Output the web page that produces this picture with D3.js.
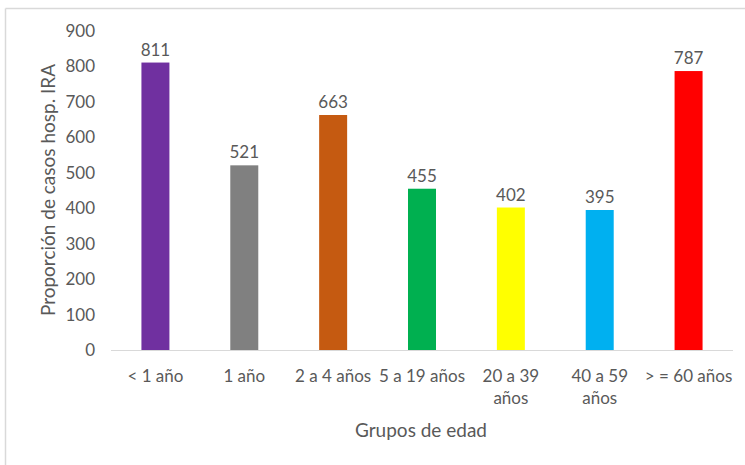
<!DOCTYPE html>
<html>
<head>
<meta charset="utf-8">
<script src="https://cdn.jsdelivr.net/npm/d3@7"></script>
<style>
  body { margin: 0; background: #fff; }
  text { font-family: Lato, "Open Sans", sans-serif; fill: #595959; }
</style>
</head>
<body>
<div id="chart"></div>
<script>
// data
const categories = ['< 1 año', '1 año', '2 a 4 años', '5 a 19 años', '20 a 39 años', '40 a 59 años', '> = 60 años'];
const labelLines = [['< 1 año'], ['1 año'], ['2 a 4 años'], ['5 a 19 años'], ['20 a 39', 'años'], ['40 a 59', 'años'], ['> = 60 años']];
const values = [811, 521, 663, 455, 402, 395, 787];
const colors = ['#7030A0', '#808080', '#C55A11', '#00B050', '#FFFF00', '#00B0F0', '#FF0000'];
const yTicks = [0, 100, 200, 300, 400, 500, 600, 700, 800, 900];

const width = 745, height = 465;
const margin = {top: 31, right: 12, bottom: 115, left: 111};

const svg = d3.select('#chart').append('svg')
  .attr('width', width)
  .attr('height', height);

// outer chart border (only top and left visible)
svg.append('line').attr('x1', 5.5).attr('x2', 5.5).attr('y1', 8.5).attr('y2', height)
  .attr('stroke', '#d9d9d9').attr('stroke-width', 1.5);
svg.append('line').attr('x1', 5.5).attr('x2', width).attr('y1', 8.5).attr('y2', 8.5)
  .attr('stroke', '#d9d9d9').attr('stroke-width', 1.5);

const x = d3.scaleBand()
  .domain(categories)
  .range([margin.left, width - margin.right])
  .paddingInner(0.685)
  .paddingOuter(0.3425);

const y = d3.scaleLinear()
  .domain([0, 900])
  .range([height - margin.bottom, margin.top]);

// y tick labels
svg.append('g').selectAll('text')
  .data(yTicks)
  .enter().append('text')
  .attr('x', 95)
  .attr('y', d => y(d))
  .attr('dy', '0.35em')
  .attr('text-anchor', 'end')
  .style('font-size', '17px')
  .text(d => d);

// bars
svg.append('g').selectAll('rect')
  .data(values)
  .enter().append('rect')
  .attr('x', (d, i) => x(categories[i]))
  .attr('y', d => y(d))
  .attr('width', x.bandwidth())
  .attr('height', d => y(0) - y(d))
  .attr('fill', (d, i) => colors[i]);

// x axis line
svg.append('line')
  .attr('x1', margin.left).attr('x2', width - margin.right)
  .attr('y1', y(0) + 0.5).attr('y2', y(0) + 0.5)
  .attr('stroke', '#d9d9d9').attr('stroke-width', 1);

// data labels
svg.append('g').selectAll('text')
  .data(values)
  .enter().append('text')
  .attr('x', (d, i) => x(categories[i]) + x.bandwidth() / 2)
  .attr('y', d => y(d) - 7)
  .attr('text-anchor', 'middle')
  .style('font-size', '17px')
  .text(d => d);

// category labels
const catG = svg.append('g').selectAll('text')
  .data(labelLines)
  .enter().append('text')
  .attr('x', (d, i) => x(categories[i]) + x.bandwidth() / 2)
  .attr('y', 382)
  .attr('text-anchor', 'middle')
  .style('font-size', '17px');
catG.selectAll('tspan')
  .data(d => d)
  .enter().append('tspan')
  .attr('x', function() { return d3.select(this.parentNode).attr('x'); })
  .attr('dy', (d, i) => i === 0 ? 0 : 22)
  .text(d => d);

// axis titles
svg.append('text')
  .attr('x', 421)
  .attr('y', 437)
  .attr('text-anchor', 'middle')
  .style('font-size', '19px')
  .text('Grupos de edad');

svg.append('text')
  .attr('transform', 'translate(55,' + 190 + ') rotate(-90)')
  .attr('text-anchor', 'middle')
  .style('font-size', '19px')
  .text('Proporción de casos hosp. IRA');
</script>
</body>
</html>
